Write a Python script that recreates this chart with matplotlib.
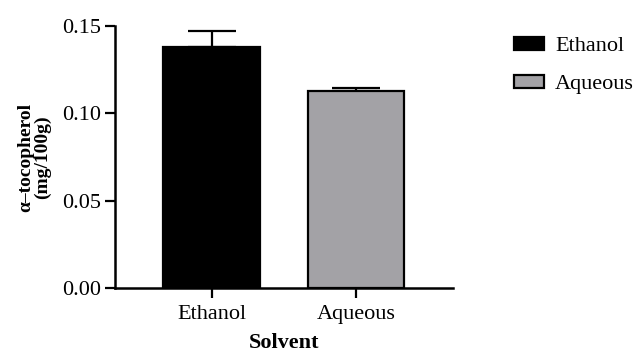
import numpy as np
import matplotlib
matplotlib.use("Agg")
from matplotlib import pyplot as plt

solvents = ["Ethanol", "Aqueous"]
means = [0.138, 0.113]
errs = [0.009, 0.0017]
colors = ["#000000", "#a3a2a6"]

plt.rcParams['font.family'] = ['Liberation Serif', 'DejaVu Serif']

fig = plt.figure(figsize=(6.35, 3.56), dpi=100)
ax = fig.add_axes([115/635, 1-288/356, (453-115)/635, (288-26)/356])

x = np.arange(len(solvents))
bars = ax.bar(x, means, width=0.67, color=colors, edgecolor="black", linewidth=1.6,
              label=solvents, zorder=2)
ax.errorbar(x, means, yerr=[np.zeros(len(errs)), errs], fmt="none", ecolor="black",
            elinewidth=1.6, capsize=17, capthick=1.6, zorder=1)

ax.set_xlim(-0.668, 1.671)
ax.set_ylim(0, 0.15)
ax.set_yticks([0.0, 0.05, 0.10, 0.15])
ax.set_yticklabels(["0.00", "0.05", "0.10", "0.15"])
ax.set_xticks(x)
ax.set_xticklabels(solvents)
ax.tick_params(axis="both", labelsize=16, width=1.6, length=7, direction="out")
ax.tick_params(axis="x", pad=5)
ax.tick_params(axis="y", pad=3)
for s in ["top", "right"]:
    ax.spines[s].set_visible(False)
for s in ["left", "bottom"]:
    ax.spines[s].set_linewidth(1.8)

ax.set_xlabel("Solvent", fontsize=16, fontweight="bold", labelpad=7)
ax.set_ylabel("α–tocopherol\n(mg/100g)", fontsize=14, fontweight="bold", labelpad=8,
              linespacing=0.95)

fig.legend(handles=bars, labels=solvents, loc="upper left", bbox_to_anchor=(494/635, 1-17/356),
           frameon=False, fontsize=16, handlelength=1.35, handleheight=0.5,
           labelspacing=0.85, handletextpad=0.5)

fig.savefig("out.png", dpi=100)
